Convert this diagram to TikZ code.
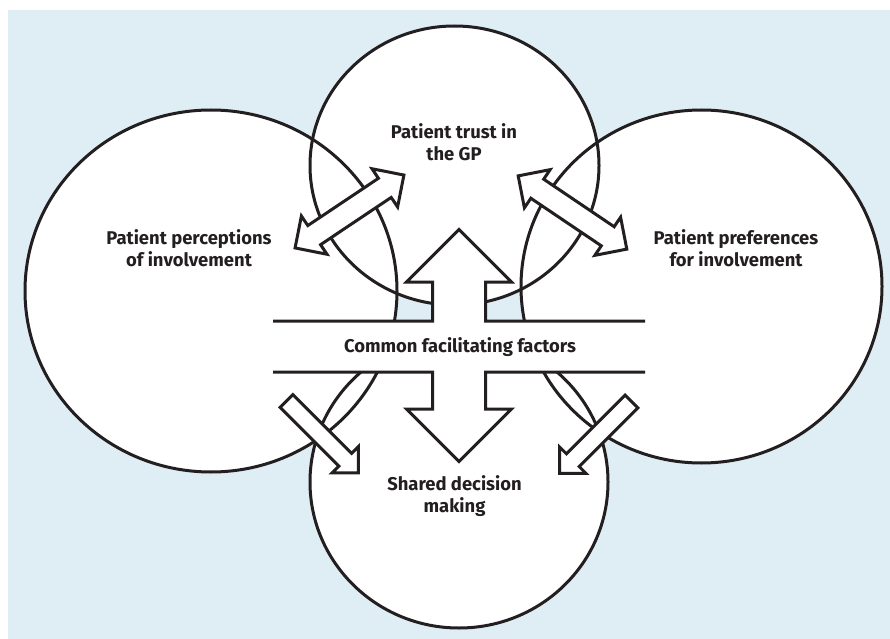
\documentclass[tikz,border=0pt]{standalone}
\usepackage{fontspec}
\setmainfont{Fira Sans}

\definecolor{panel}{RGB}{223,237,244}
\definecolor{ink}{RGB}{35,31,32}

\begin{document}
\begin{tikzpicture}[x=1bp, y=-1bp,
    line width=3bp,
    line join=miter,
    bubbletext/.style = {
      align = center,
      text = ink,
      font = \bfseries\fontsize{18.5}{21.5}\selectfont
    },
    blockarrow/.style = {
      draw = ink,
      fill = white
    }
  ]
  \useasboundingbox (0,0) rectangle (890,639);
  \path[fill=panel] (8,10) rectangle (890,639);

  % the four bubbles: fill first, then all outlines
  \foreach \x/\y/\rx/\ry in {211/291/186/181, 454.5/165.5/144.5/139.5,
      701.5/286.5/180.5/176.5, 459/482/149/146}
    \path[fill=white] (\x,\y) ellipse [x radius=\rx, y radius=\ry];
  \foreach \x/\y/\rx/\ry in {211/291/186/181, 454.5/165.5/144.5/139.5,
      701.5/286.5/180.5/176.5, 459/482/149/146}
    \draw[ink] (\x,\y) ellipse [x radius=\rx, y radius=\ry];

  % central band with the up and down arrows
  \path[fill=white] (273,321) rectangle (645,372);
  \path[fill=white] (432.5,321) -- (432.5,282) -- (406.5,282) -- (459,229.5)
    -- (511.5,282) -- (485.5,282) -- (485.5,321) -- cycle;
  \path[fill=white] (432.5,372) -- (432.5,409) -- (406.5,409) -- (459,461.5)
    -- (511.5,409) -- (485.5,409) -- (485.5,372) -- cycle;
  \draw[ink] (273,321) -- (432.5,321) -- (432.5,282) -- (406.5,282) -- (459,229.5)
    -- (511.5,282) -- (485.5,282) -- (485.5,321) -- (645,321);
  \draw[ink] (273,372) -- (432.5,372) -- (432.5,409) -- (406.5,409) -- (459,461.5)
    -- (511.5,409) -- (485.5,409) -- (485.5,372) -- (645,372);

  % double arrows between the top bubbles
  \foreach \x/\y/\a in {349.5/211.5/33.8, 572.5/212.5/-34}
    \draw[blockarrow, shift={(\x,\y)}, rotate=\a]
      (-65.5,0) -- (-42.5,23) -- (-42.5,11.5) -- (42.5,11.5) -- (42.5,23)
      -- (65.5,0) -- (42.5,-23) -- (42.5,-11.5) -- (-42.5,-11.5)
      -- (-42.5,-23) -- cycle;

  % single arrows into the bottom bubble
  \foreach \x/\y/\a in {286.5/401/-45, 631.5/401.5/-135}
    \draw[blockarrow, shift={(\x,\y)}, rotate=\a]
      (0,9) -- (83,9) -- (83,18.5) -- (101.5,0) -- (83,-18.5)
      -- (83,-9) -- (0,-9) -- cycle;

  \node[bubbletext] (perc) at (189,248) {Patient perceptions\\of involvement};
  \node[bubbletext] (trust) at (454,142) {Patient trust in\\the GP};
  \node[bubbletext] (pref) at (736,248) {Patient preferences\\for involvement};
  \node[bubbletext] (common) at (460,347) {Common facilitating factors};
  \node[bubbletext] (shared) at (454.5,496) {Shared decision\\making};
\end{tikzpicture}
\end{document}
